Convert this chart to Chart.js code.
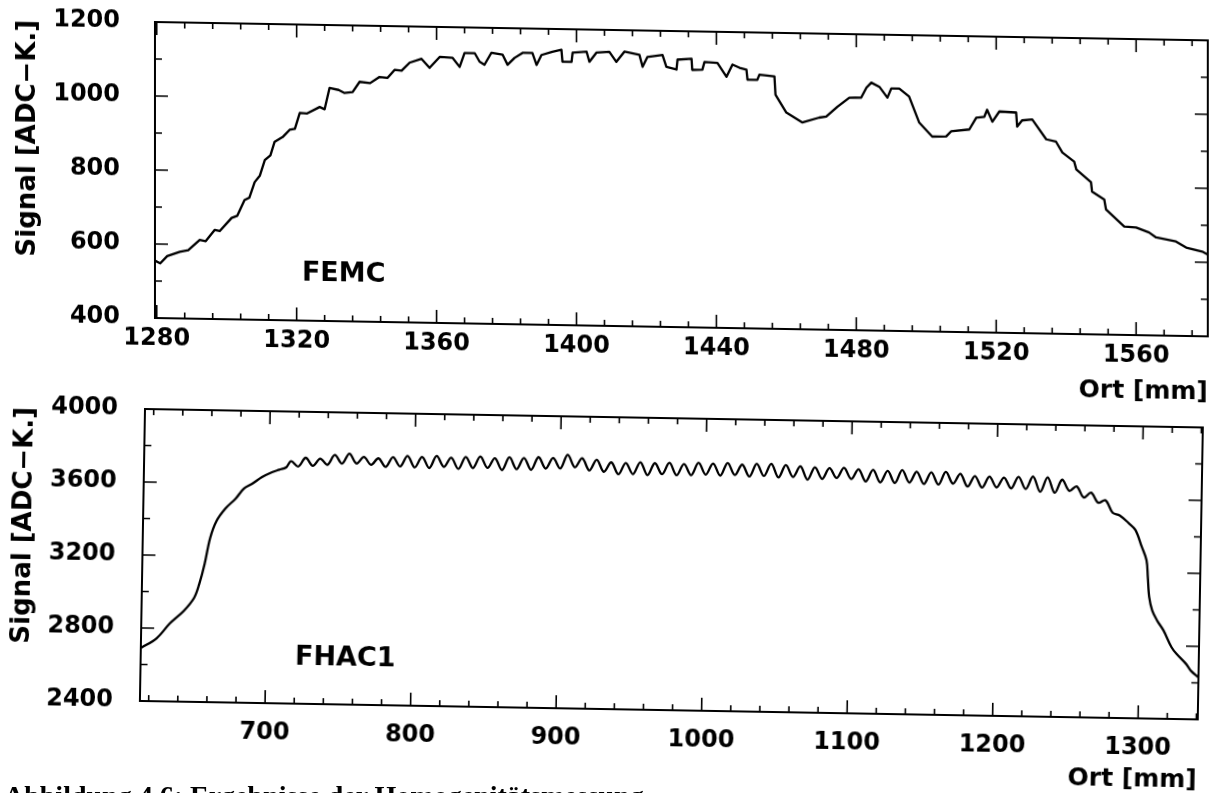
<!DOCTYPE html>
<html lang="de">
<head>
  <meta charset="UTF-8">
  <title>Signal gegen Ort - FEMC / FHAC1</title>
  <script src="https://cdn.jsdelivr.net/npm/chart.js"></script>
  <style>
    body { margin: 0; background: #fff; width: 1213px; height: 793px; overflow: hidden; position: relative; }
    canvas { position: absolute; left: 0; }
    #femc { top: 0; transform: skewY(1deg); transform-origin: 155px 22px; }
    #fhac { top: 380px; transform: rotate(1deg); transform-origin: 145px 29px; }
    .caption { position: absolute; left: 4px; top: 782px; font: bold 28px/28px "Liberation Serif", serif; white-space: nowrap; color: #000; }
  </style>
</head>
<body>
  <canvas id="femc" width="1213" height="400"></canvas>
  <canvas id="fhac" width="1213" height="413"></canvas>
  <div class="caption">Abbildung 4.6: Ergebnisse der Homogenitätsmessung</div>

  <script>
    // FEMC scan (upper plot)
    const femcOrt = [
      1279.5, 1281, 1283, 1286.6, 1289, 1292.3, 1294, 1296.6, 1298, 1301.4,
      1303, 1305.1, 1306.5, 1308, 1309.5, 1310.9, 1312.5, 1313.7, 1316, 1318,
      1319.5, 1320.9, 1323, 1326.6, 1328, 1329.4, 1332, 1333.7, 1336, 1338,
      1341, 1343.7, 1346, 1348, 1350, 1352.3, 1355.7, 1358, 1360.9, 1364.6,
      1366.6, 1368, 1370.9, 1372.3, 1373.7, 1375.7, 1378.9, 1380.3, 1382.3, 1384.6,
      1387.4, 1388.6, 1390, 1393.1, 1395.7, 1396, 1398.6, 1398.9, 1402.9, 1403.7,
      1405.7, 1409.4, 1411.4, 1413.7, 1418, 1418.9, 1420.3, 1424.6, 1425.7, 1428.6,
      1428.9, 1432.9, 1433.1, 1436, 1436.6, 1440.3, 1442.9, 1444.6, 1446.6, 1448.6,
      1448.9, 1451.7, 1452.3, 1456.6, 1456.9, 1460, 1464.6, 1469.4, 1471.4, 1474.6,
      1478, 1481.4, 1482.9, 1484.3, 1486.6, 1488.9, 1490, 1492.3, 1495.1, 1498,
      1501.7, 1505.7, 1507.1, 1512.3, 1514.3, 1516.6, 1517.4, 1518.9, 1520.9, 1525.7,
      1526, 1527.4, 1530.3, 1534.3, 1537.1, 1538.9, 1542.3, 1542.9, 1547.1, 1547.4,
      1550.9, 1551.4, 1556.6, 1560, 1563.7, 1565.7, 1571.4, 1574.3, 1578.9, 1580.5
    ];
    const femcSignal = [
      555, 548, 568, 580, 585, 613, 610, 641, 638, 674,
      680, 723, 730, 772, 790, 832, 845, 882, 895, 915,
      918, 961, 960, 978, 972, 1030, 1025, 1017, 1020, 1048,
      1045, 1062, 1060, 1082, 1080, 1102, 1113, 1089, 1119, 1117,
      1093, 1131, 1131, 1108, 1100, 1133, 1128, 1101, 1120, 1134,
      1134, 1102, 1129, 1138, 1144, 1112, 1112, 1137, 1140, 1113,
      1138, 1141, 1114, 1142, 1134, 1102, 1129, 1135, 1103, 1096,
      1123, 1126, 1096, 1097, 1118, 1116, 1079, 1112, 1104, 1099,
      1072, 1072, 1086, 1082, 1033, 985, 959, 973, 976, 1003,
      1028, 1029, 1056, 1070, 1059, 1030, 1055, 1055, 1034, 964,
      927, 928, 942, 948, 980, 983, 1002, 970, 998, 996,
      958, 975, 978, 925, 919, 890, 866, 845, 811, 786,
      765, 738, 693, 691, 678, 665, 655, 639, 629, 621
    ];
    const femcXTicks = [1280, 1320, 1360, 1400, 1440, 1480, 1520, 1560];
    const femcYTicks = [400, 600, 800, 1000, 1200];

    // FHAC1 scan (lower plot)
    const fhacOrt = [
      614, 624.7, 633.6, 643.2, 650, 653.4, 656.8, 660.3, 664.4, 670.5,
      677.4, 682.9, 688.4, 695.2, 702, 707, 711.6,
      715, 720, 725, 730, 735, 740, 745, 750, 755, 760,
      765, 770, 775, 780, 785, 790, 795, 800, 805, 810,
      815, 820, 825, 830, 835, 840, 845, 850, 855, 860,
      865, 870, 875, 880, 885, 890, 895, 900, 905, 910,
      915, 920, 925, 930, 935, 940, 945, 950, 955, 960,
      965, 970, 975, 980, 985, 990, 995, 1000, 1005, 1010,
      1015, 1020, 1025, 1030, 1035, 1040, 1045, 1050, 1055, 1060,
      1065, 1070, 1075, 1080, 1085, 1090, 1095, 1100, 1105, 1110,
      1115, 1120, 1125, 1130, 1135, 1140, 1145, 1150, 1155, 1160,
      1165, 1170, 1175, 1180, 1185, 1190, 1195, 1200, 1205, 1210,
      1215, 1220, 1225, 1230, 1235, 1240, 1245, 1250, 1255, 1260,
      1265, 1270, 1275, 1280, 1285,
      1291.3, 1295.9, 1300.5, 1303.9, 1305, 1306.2, 1308.4, 1311.9, 1316.4, 1322.1,
      1325.6, 1332.4, 1335.8, 1341
    ];
    const fhacSignal = [
      2690, 2745, 2827, 2899, 2970, 3047, 3156, 3299, 3392, 3463,
      3518, 3573, 3600, 3638, 3666, 3680, 3693,
      3728, 3700, 3748, 3705, 3745, 3712, 3766, 3720, 3775, 3722,
      3758, 3716, 3752, 3706, 3760, 3710, 3768, 3706, 3764, 3704,
      3770, 3712, 3762, 3702, 3768, 3708, 3772, 3710, 3764, 3700,
      3770, 3706, 3768, 3704, 3774, 3712, 3770, 3714, 3790, 3722,
      3772, 3706, 3765, 3700, 3752, 3688, 3750, 3690, 3756, 3686,
      3752, 3692, 3755, 3688, 3750, 3690, 3758, 3694, 3756, 3690,
      3760, 3695, 3752, 3688, 3758, 3692, 3760, 3686, 3754, 3690,
      3748, 3676, 3745, 3682, 3742, 3688, 3744, 3684, 3738, 3672,
      3736, 3668, 3732, 3666, 3738, 3670, 3730, 3664, 3728, 3662,
      3732, 3668, 3722, 3654, 3712, 3650, 3710, 3652, 3706, 3648,
      3712, 3646, 3715, 3632, 3712, 3628, 3700, 3640, 3665, 3605,
      3632, 3578, 3592, 3525, 3510,
      3468, 3432, 3340, 3267, 3175, 3065, 2993, 2938, 2884, 2793,
      2757, 2702, 2665, 2630
    ];
    const fhacXTicks = [700, 800, 900, 1000, 1100, 1200, 1300];
    const fhacYTicks = [2400, 2800, 3200, 3600, 4000];

    Chart.defaults.font.family = "'DejaVu Sans', sans-serif";
    Chart.defaults.font.weight = 'bold';
    Chart.defaults.color = '#000';

    // closed frame with inward ticks on all four sides, plus the detector label
    const frame = {
      id: 'frame',
      afterDatasetsDraw(chart, args, o) {
        const { ctx, chartArea: a, scales: { x, y } } = chart;
        ctx.save();
        ctx.strokeStyle = '#000';
        ctx.lineWidth = 2;
        ctx.strokeRect(a.left, a.top, a.right - a.left, a.bottom - a.top);

        ctx.lineWidth = 1.6;
        ctx.beginPath();
        const r = Math.round(o.xMajor / o.xMinor);
        for (let i = -r; ; i++) {
          const v = o.xStart + i * o.xMinor;
          if (v > x.max) break;
          if (v < x.min) continue;
          const len = ((i % r) + r) % r === 0 ? 13 : 6;
          const px = x.getPixelForValue(v);
          ctx.moveTo(px, a.bottom); ctx.lineTo(px, a.bottom - len);
          ctx.moveTo(px, a.top); ctx.lineTo(px, a.top + len);
        }
        const ry = Math.round(o.yMajor / o.yMinor);
        for (let i = 0; ; i++) {
          const v = y.min + i * o.yMinor;
          if (v > y.max) break;
          const len = i % ry === 0 ? 13 : 7;
          const py = y.getPixelForValue(v);
          ctx.moveTo(a.left, py); ctx.lineTo(a.left + len, py);
          ctx.moveTo(a.right, py); ctx.lineTo(a.right - len, py);
        }
        ctx.stroke();

        ctx.font = o.labelFont;
        ctx.fillStyle = '#000';
        ctx.textAlign = 'left';
        ctx.textBaseline = 'middle';
        ctx.fillText(o.label, x.getPixelForValue(o.labelX), y.getPixelForValue(o.labelY));
        ctx.restore();
      }
    };

    function scanChart(id, ort, signal, c) {
      return new Chart(document.getElementById(id), {
        type: 'line',
        data: {
          datasets: [{
            data: ort.map((o, i) => ({ x: o, y: signal[i] })),
            borderColor: '#000',
            borderWidth: 2.3,
            borderJoinStyle: 'round',
            pointRadius: 0,
            tension: c.tension,
            fill: false
          }]
        },
        options: {
          responsive: false,
          animation: false,
          events: [],
          layout: { padding: { left: 0, right: c.padRight, top: c.padTop, bottom: 0 } },
          plugins: {
            legend: { display: false },
            tooltip: { enabled: false },
            frame: c.frame
          },
          scales: {
            x: {
              type: 'linear',
              min: c.xMin,
              max: c.xMax,
              afterBuildTicks: s => { s.ticks = c.xTicks.map(v => ({ value: v })); },
              afterFit: s => { s.height = c.xHeight; },
              grid: { display: false, drawTicks: false },
              border: { display: false },
              ticks: { autoSkip: false, maxRotation: 0, padding: c.xPad, font: { size: 24 }, callback: v => String(v) },
              title: { display: true, text: 'Ort [mm]', align: 'end', font: { size: 25 }, padding: { top: 0, bottom: c.xTitlePad } }
            },
            y: {
              min: c.yMin,
              max: c.yMax,
              afterBuildTicks: s => { s.ticks = c.yTicks.map(v => ({ value: v })); },
              // keep the plot frame where it is: no extra room for half labels
              afterFit: s => { s.width = c.yWidth; s.paddingTop = 0; s.paddingBottom = 0; },
              grid: { display: false, drawTicks: false },
              border: { display: false },
              ticks: { autoSkip: false, padding: c.yPad, font: { size: 24 }, callback: v => String(v) },
              title: { display: true, text: 'Signal [ADC\u2212K.]', align: 'end', font: { size: 26 }, padding: { top: c.yTitlePad, bottom: 0 } }
            }
          }
        },
        plugins: [frame]
      });
    }

    scanChart('femc', femcOrt, femcSignal, {
      xMin: 1279.5, xMax: 1580.5, yMin: 400, yMax: 1200,
      xTicks: femcXTicks, yTicks: femcYTicks, tension: 0,
      padTop: 22, padRight: 5, xHeight: 82, yWidth: 155,
      xPad: 6, xTitlePad: 11, yPad: 35, yTitlePad: 13,
      frame: { xStart: 1280, xMajor: 40, xMinor: 8, yMajor: 200, yMinor: 100,
               label: 'FEMC', labelX: 1321.5, labelY: 527, labelFont: "bold 27px 'DejaVu Sans'" }
    });

    scanChart('fhac', fhacOrt, fhacSignal, {
      xMin: 614, xMax: 1341, yMin: 2400, yMax: 4000,
      xTicks: fhacXTicks, yTicks: fhacYTicks, tension: 0.35,
      padTop: 29, padRight: 10, xHeight: 92, yWidth: 145,
      xPad: 15, xTitlePad: 16, yPad: 27, yTitlePad: 11,
      frame: { xStart: 700, xMajor: 100, xMinor: 20, yMajor: 400, yMinor: 200,
               label: 'FHAC1', labelX: 720, labelY: 2650, labelFont: "bold 27px 'DejaVu Sans'" }
    });
  </script>
</body>
</html>
